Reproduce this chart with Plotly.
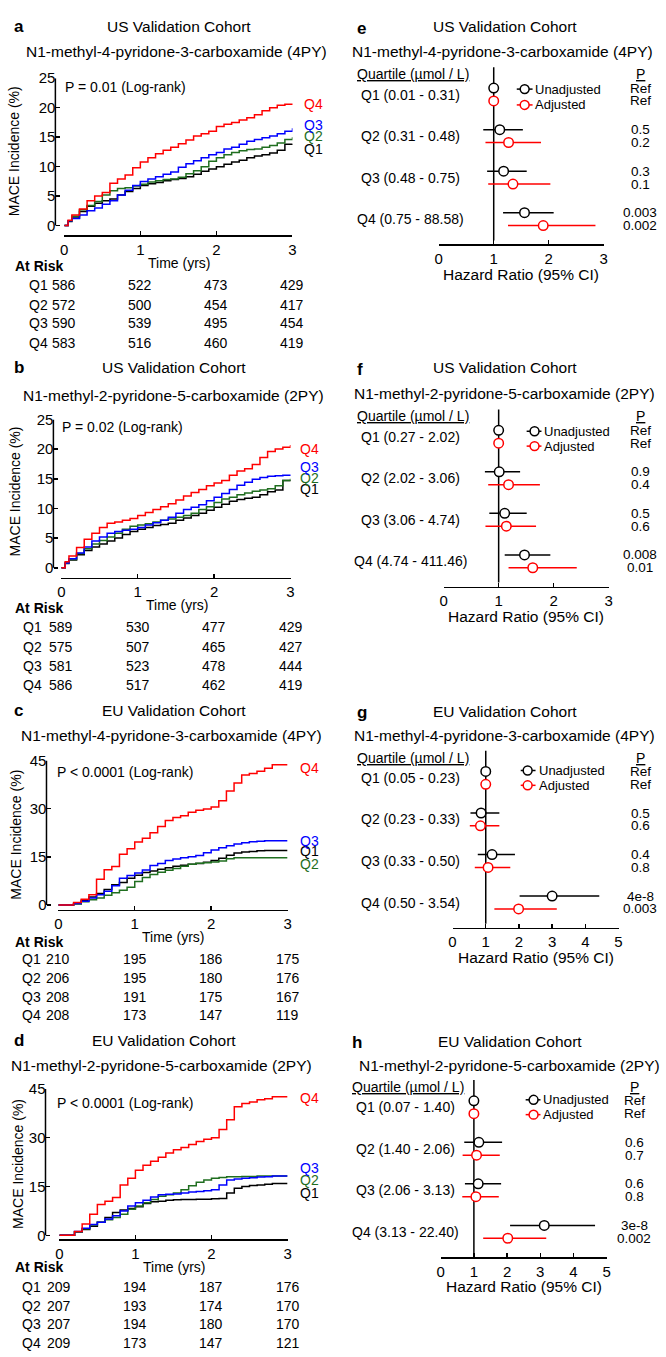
import plotly.graph_objects as go

W, H = 666, 1357
FONT = "Liberation Sans, Arial, Helvetica, sans-serif"

# ---------------- DATA ----------------
TIME_YRS = [0.0, 0.05, 0.1, 0.2, 0.3, 0.4, 0.5, 0.6, 0.7, 0.8, 0.9,
            1.0, 1.1, 1.2, 1.3, 1.4, 1.5, 1.6, 1.7, 1.8, 1.9,
            2.0, 2.1, 2.2, 2.3, 2.4, 2.5, 2.6, 2.7, 2.8, 2.9, 3.0]

# a: US cohort, 4PY (cumulative MACE incidence, %)
US_4PY_Q1 = [0, 0.7, 1.3, 2.4, 3.3, 3.8, 4.2, 4.5, 5.2, 5.8, 6.3, 6.8, 7.1, 7.3, 7.6, 7.8, 8.0, 8.3, 8.7, 9.2, 9.6, 10.0, 10.4, 10.8, 11.1, 11.5, 11.8, 12.0, 12.3, 12.8, 13.8, 13.9]
US_4PY_Q2 = [0, 0.8, 1.6, 2.7, 3.4, 4.1, 5.2, 5.9, 6.3, 6.4, 6.7, 7.0, 7.4, 7.6, 7.8, 7.9, 8.2, 8.8, 9.3, 10.0, 10.9, 11.5, 12.0, 12.4, 12.7, 12.9, 13.0, 13.3, 13.6, 14.0, 14.6, 15.0]
US_4PY_Q3 = [0, 0.8, 1.2, 1.8, 2.5, 3.0, 3.6, 4.2, 5.2, 6.0, 6.8, 7.5, 7.9, 8.3, 8.7, 9.1, 9.9, 10.5, 11.0, 11.5, 12.0, 12.4, 13.0, 13.3, 13.8, 14.3, 14.6, 14.9, 15.2, 15.6, 16.0, 16.5]
US_4PY_Q4 = [0, 0.9, 1.8, 2.8, 4.2, 5.0, 5.6, 7.2, 7.9, 8.6, 9.8, 10.8, 11.5, 12.2, 12.8, 13.3, 13.9, 14.5, 15.2, 15.6, 16.0, 16.8, 17.2, 17.5, 17.9, 18.3, 18.8, 19.5, 20.0, 20.4, 20.6, 20.7]

# b: US cohort, 2PY
US_2PY_Q1 = [0, 0.7, 1.3, 2.2, 2.9, 3.5, 4.0, 4.5, 5.0, 5.6, 6.1, 6.5, 6.8, 7.1, 7.3, 7.5, 8.0, 8.4, 8.8, 9.2, 9.7, 10.2, 10.7, 11.2, 11.5, 11.7, 11.9, 12.3, 12.8, 13.1, 14.7, 14.8]
US_2PY_Q2 = [0, 0.8, 1.4, 2.4, 3.2, 4.0, 4.6, 5.2, 5.8, 6.5, 7.0, 7.2, 7.4, 7.7, 8.0, 8.2, 8.5, 8.8, 9.2, 9.8, 10.3, 11.0, 11.6, 11.9, 12.3, 12.6, 12.9, 13.1, 13.3, 13.8, 14.7, 15.0]
US_2PY_Q3 = [0, 0.8, 1.5, 2.5, 3.5, 4.5, 5.2, 5.8, 6.1, 6.3, 6.5, 6.8, 7.2, 7.6, 8.0, 8.5, 9.2, 9.8, 10.2, 10.6, 11.3, 11.9, 12.5, 13.2, 13.9, 14.4, 14.9, 15.2, 15.4, 15.5, 15.6, 15.7]
US_2PY_Q4 = [0, 1.0, 2.0, 3.4, 4.8, 5.8, 6.8, 7.5, 7.7, 8.0, 8.3, 8.8, 9.3, 9.8, 10.3, 10.8, 11.4, 12.1, 12.7, 13.2, 13.8, 14.3, 14.7, 15.6, 16.3, 16.7, 17.4, 18.6, 19.6, 20.0, 20.3, 20.7]

# c: EU cohort, 4PY
EU_4PY_Q1 = [0, 0, 0, 0.5, 1.5, 2.5, 3.6, 4.8, 6.3, 7.0, 8.3, 9.3, 10.1, 10.6, 11.1, 11.6, 12.1, 12.4, 12.7, 12.9, 13.3, 13.9, 14.6, 15.5, 16.2, 16.5, 16.7, 16.9, 17.0, 17.0, 17.0, 17.0]
EU_4PY_Q2 = [0, 0, 0, 0.3, 1.0, 1.6, 2.2, 3.0, 3.8, 4.6, 5.5, 7.3, 8.6, 9.5, 10.2, 10.8, 11.4, 12.1, 12.7, 13.0, 13.2, 13.4, 13.7, 14.4, 14.7, 14.7, 14.7, 14.7, 14.7, 14.7, 14.7, 14.7]
EU_4PY_Q3 = [0, 0, 0, 0.5, 1.2, 2.2, 3.2, 4.3, 6.0, 8.3, 9.2, 10.0, 10.9, 12.3, 12.9, 13.9, 14.3, 14.7, 15.0, 15.4, 16.3, 17.1, 17.8, 18.5, 19.0, 19.4, 19.7, 19.9, 20.0, 20.0, 20.0, 20.0]
EU_4PY_Q4 = [0, 0, 0, 0.8, 1.8, 3.2, 8.0, 11.0, 12.0, 15.8, 17.5, 19.6, 20.8, 22.5, 24.5, 26.3, 27.3, 27.8, 28.9, 29.5, 29.9, 30.5, 32.5, 35.5, 38.0, 40.5, 41.0, 41.7, 42.6, 43.7, 43.7, 43.7]

# d: EU cohort, 2PY
EU_2PY_Q1 = [0, 0, 0, 1.0, 1.8, 2.8, 4.0, 5.5, 7.0, 7.8, 8.2, 8.8, 9.8, 10.3, 10.5, 10.8, 10.9, 11.0, 11.0, 11.1, 11.1, 11.2, 11.3, 13.0, 14.5, 15.0, 15.3, 15.5, 15.7, 15.9, 15.9, 15.9]
EU_2PY_Q2 = [0, 0, 0, 1.0, 2.0, 3.2, 4.0, 4.8, 5.5, 6.5, 8.0, 9.0, 10.0, 11.0, 12.0, 12.5, 13.0, 14.0, 15.2, 16.3, 17.0, 17.5, 17.8, 18.0, 18.0, 18.1, 18.1, 18.2, 18.2, 18.2, 18.2, 18.2]
EU_2PY_Q3 = [0, 0, 0, 1.2, 2.2, 3.3, 4.0, 5.0, 6.0, 7.5, 9.0, 10.0, 10.8, 11.8, 12.5, 12.6, 12.7, 13.0, 13.3, 13.5, 13.7, 14.0, 15.5, 17.0, 17.3, 17.5, 17.7, 17.9, 18.0, 18.2, 18.2, 18.2]
EU_2PY_Q4 = [0, 0, 0, 1.2, 3.5, 6.5, 9.5, 10.5, 11.6, 15.5, 17.5, 20.0, 21.5, 22.8, 24.0, 25.3, 26.3, 27.0, 27.9, 28.8, 29.5, 30.0, 32.5, 35.5, 39.5, 40.5, 41.0, 41.7, 42.0, 42.6, 42.6, 42.6]

# At-risk tables
RISK_TIMES = [0, 1, 2, 3]
US_4PY_RISK_Q1 = [586, 522, 473, 429]
US_4PY_RISK_Q2 = [572, 500, 454, 417]
US_4PY_RISK_Q3 = [590, 539, 495, 454]
US_4PY_RISK_Q4 = [583, 516, 460, 419]
US_2PY_RISK_Q1 = [589, 530, 477, 429]
US_2PY_RISK_Q2 = [575, 507, 465, 427]
US_2PY_RISK_Q3 = [581, 523, 478, 444]
US_2PY_RISK_Q4 = [586, 517, 462, 419]
EU_4PY_RISK_Q1 = [210, 195, 186, 175]
EU_4PY_RISK_Q2 = [206, 195, 180, 176]
EU_4PY_RISK_Q3 = [208, 191, 175, 167]
EU_4PY_RISK_Q4 = [208, 173, 147, 119]
EU_2PY_RISK_Q1 = [209, 194, 187, 176]
EU_2PY_RISK_Q2 = [207, 193, 174, 170]
EU_2PY_RISK_Q3 = [207, 194, 180, 170]
EU_2PY_RISK_Q4 = [209, 173, 147, 121]

QUARTILES = ["Q1", "Q2", "Q3", "Q4"]

# Forest plots: hazard ratios (95% CI)
E_RANGES = ["Q1 (0.01 - 0.31)", "Q2 (0.31 - 0.48)", "Q3 (0.48 - 0.75)", "Q4 (0.75 - 88.58)"]
E_HR_U = [1, 1.11, 1.18, 1.56]; E_LO_U = [1, 0.81, 0.88, 1.17]; E_HI_U = [1, 1.53, 1.60, 2.09]
E_HR_A = [1, 1.27, 1.35, 1.90]; E_LO_A = [1, 0.85, 0.90, 1.26]; E_HI_A = [1, 1.86, 2.03, 2.85]
E_P_U = ["Ref", "0.5", "0.3", "0.003"]; E_P_A = ["Ref", "0.2", "0.1", "0.002"]

F_RANGES = ["Q1 (0.27 - 2.02)", "Q2 (2.02 - 3.06)", "Q3 (3.06 - 4.74)", "Q4 (4.74 - 411.46)"]
F_HR_U = [1, 1.01, 1.11, 1.47]; F_LO_U = [1, 0.75, 0.83, 1.11]; F_HI_U = [1, 1.39, 1.51, 1.94]
F_HR_A = [1, 1.18, 1.14, 1.62]; F_LO_A = [1, 0.81, 0.76, 1.18]; F_HI_A = [1, 1.75, 1.68, 2.42]
F_P_U = ["Ref", "0.9", "0.5", "0.008"]; F_P_A = ["Ref", "0.4", "0.6", "0.01"]

G_RANGES = ["Q1 (0.05 - 0.23)", "Q2 (0.23 - 0.33)", "Q3 (0.33 - 0.50)", "Q4 (0.50 - 3.54)"]
G_HR_U = [1, 0.86, 1.19, 3.00]; G_LO_U = [1, 0.54, 0.76, 2.02]; G_HI_U = [1, 1.41, 1.88, 4.42]
G_HR_A = [1, 0.84, 1.07, 1.99]; G_LO_A = [1, 0.52, 0.67, 1.26]; G_HI_A = [1, 1.41, 1.74, 3.14]
G_P_U = ["Ref", "0.5", "0.4", "4e-8"]; G_P_A = ["Ref", "0.6", "0.8", "0.003"]

H_RANGES = ["Q1 (0.07 - 1.40)", "Q2 (1.40 - 2.06)", "Q3 (2.06 - 3.13)", "Q4 (3.13 - 22.40)"]
H_HR_U = [1, 1.15, 1.13, 3.12]; H_LO_U = [1, 0.71, 0.73, 2.09]; H_HI_U = [1, 1.85, 1.82, 4.65]
H_HR_A = [1, 1.08, 1.06, 2.02]; H_LO_A = [1, 0.66, 0.65, 1.28]; H_HI_A = [1, 1.78, 1.75, 3.18]
H_P_U = ["Ref", "0.6", "0.6", "3e-8"]; H_P_A = ["Ref", "0.7", "0.8", "0.002"]

# ---------------- STYLE / LAYOUT ----------------
Q_COLORS = ["#000000", "#1f6e1f", "#0000ff", "#ff0000"]


def px(x):
    return x / W


def py(y):
    return 1 - y / H


def axname(kind, i):
    return kind if i == 1 else f"{kind}{i}"


def axref(kind, i):
    return kind[0] if i == 1 else f"{kind[0]}{i}"


fig = go.Figure()
annotations = []
shapes = []
layout = {}


def txt(x, y, s, size=14, color="black", xanchor="center", xref="paper", yref="paper",
        bold=False, angle=0):
    annotations.append(dict(
        x=x, y=y, xref=xref, yref=yref, text=(f"<b>{s}</b>" if bold else s),
        showarrow=False, xanchor=xanchor, yanchor="middle", textangle=angle,
        font=dict(size=size, color=color, family=FONT)))


def km_panel(g, curves, risks, letter, title, subtitle, ptext):
    i = g["idx"]
    xr, yr = axref("x", i), axref("y", i)
    for name, col, vals in zip(QUARTILES, Q_COLORS, curves):
        fig.add_trace(go.Scatter(x=TIME_YRS, y=vals, mode="lines", name=name,
                                 line=dict(color=col, width=1.5, shape="hv"),
                                 xaxis=xr, yaxis=yr, hoverinfo="skip"))
    scale = (g["y0"] - g["ytop"]) / g["ymax"]
    pad = 2.0 / scale
    layout[axname("xaxis", i)] = dict(
        domain=[px(g["x0"]), px(g["x1"])], range=[0, 3], anchor="free",
        position=py(g["xline"]), showline=True, linecolor="black", linewidth=1.5,
        ticks="inside", ticklen=4, tickwidth=1.5, tickcolor="black",
        tickvals=RISK_TIMES, tickfont=dict(size=15, family=FONT, color="black"),
        showgrid=False, zeroline=False, fixedrange=True)
    layout[axname("yaxis", i)] = dict(
        domain=[py(g["y0"] + 2), py(g["ytop"])], range=[-pad, g["ymax"]], anchor="free",
        position=px(g["yline"]), showline=False, ticks="inside", ticklen=4,
        tickwidth=1.5, tickcolor="black", tickvals=g["yticks"],
        tickfont=dict(size=15, family=FONT, color="black"),
        showgrid=False, zeroline=False, fixedrange=True)
    shapes.append(dict(type="line", xref="paper", yref=yr, x0=px(g["yline"]), x1=px(g["yline"]),
                       y0=0, y1=g["ymax"], line=dict(color="black", width=1.5)))
    # texts
    txt(px(g["letter"][0]), py(g["letter"][1]), letter, size=17, bold=True, xanchor="left")
    txt(px(g["title"][0]), py(g["title"][1]), title, size=15.5)
    txt(px(g["sub"][0]), py(g["sub"][1]), subtitle, size=15.5)
    txt(px(g["p"][0]), py(g["p"][1]), ptext, size=14, xanchor="left")
    txt(px(g["ytitle"][0]), py(g["ytitle"][1]), "MACE Incidence (%)", size=14, angle=-90)
    txt(px(g["time"][0]), py(g["time"][1]), "Time (yrs)", size=14)
    txt(px(g["atrisk"][0]), py(g["atrisk"][1]), "At Risk", size=14, bold=True, xanchor="left")
    for q, col, ly in zip(QUARTILES, Q_COLORS, g["labels"]):
        txt(px(g["labx"]), py(ly), q, size=14, color=col, xanchor="left")
    for q, row_y, counts in zip(QUARTILES, g["rows"], risks):
        txt(px(g["qx"]), py(row_y), q, size=14)
        for t, n in zip(RISK_TIMES, counts):
            txt(t, py(row_y), str(n), size=14, xref=xr)


ROW_PX = 42.0
ADJ_OFF = 13.0 / ROW_PX


def forest_panel(g, letter, title, subtitle, ranges, hr_u, lo_u, hi_u, hr_a, lo_a, hi_a, p_u, p_a):
    i = g["idx"]
    xr, yr = axref("x", i), axref("y", i)
    top = g["top"]
    q1 = top + 21
    axis_y = top + 179
    rows_u = [k for k in range(len(ranges))]
    rows_a = [k + ADJ_OFF for k in rows_u]
    for hr, lo, hi, ys, col in [(hr_u, lo_u, hi_u, rows_u, "black"), (hr_a, lo_a, hi_a, rows_a, "#ff0000")]:
        fig.add_trace(go.Scatter(
            x=hr, y=ys, mode="markers", xaxis=xr, yaxis=yr, hoverinfo="skip",
            marker=dict(symbol="circle", size=9.5, color="white", line=dict(color=col, width=1.5)),
            error_x=dict(type="data", symmetric=False,
                         array=[h - m for h, m in zip(hi, hr)],
                         arrayminus=[m - l for m, l in zip(hr, lo)],
                         color=col, thickness=1.5, width=0)))
    layout[axname("xaxis", i)] = dict(
        domain=[px(g["xa0"]), px(g["xa1"])], range=[0, g["xmax"]], anchor="free",
        position=py(axis_y), showline=True, linecolor="black", linewidth=1.5,
        ticks="inside", ticklen=4, tickwidth=1.5, tickcolor="black",
        tickvals=list(range(g["xmax"] + 1)), tickfont=dict(size=15, family=FONT, color="black"),
        showgrid=False, zeroline=False, fixedrange=True)
    layout[axname("yaxis", i)] = dict(
        domain=[py(axis_y), py(top)], range=[(axis_y - q1) / ROW_PX, (top - q1) / ROW_PX],
        anchor="free", position=px(g["xa0"]), visible=False, showgrid=False,
        zeroline=False, fixedrange=True)
    shapes.append(dict(type="line", xref=xr, yref="paper", x0=1, x1=1, y0=py(axis_y - 4), y1=py(top),
                       line=dict(color="black", width=1.5), layer="below"))
    # texts
    txt(px(g["letter"][0]), py(g["letter"][1]), letter, size=17, bold=True, xanchor="left")
    txt(px(g["title"][0]), py(g["title"][1]), title, size=15.5)
    txt(px(g["sub"][0]), py(g["sub"][1]), subtitle, size=15.5)
    txt(px(g["hdr_x"]), py(top + 7), "<u>Quartile (µmol / L)</u>", size=14, xanchor="left")
    txt(px(g["pcx"]), py(top + 7), "<u>P</u>", size=14)
    for k, lab in enumerate(ranges):
        txt(px(g["qcx"]), rows_u[k] + ADJ_OFF / 2, lab, size=14, yref=yr)
        txt(px(g["pcx"]), rows_u[k], p_u[k], size=13.5, yref=yr)
        txt(px(g["pcx"]), rows_a[k], p_a[k], size=13.5, yref=yr)
    txt(px(g["hr"][0]), py(axis_y + 30), "Hazard Ratio (95% CI)", size=15.5)
    # legend glyphs
    l0, l1, cx, tx = g["leg"]
    for ly, col, lab in [(g["leg_y"][0], "black", "Unadjusted"), (g["leg_y"][1], "#ff0000", "Adjusted")]:
        shapes.append(dict(type="line", xref="paper", yref="paper", x0=px(l0), x1=px(l1),
                           y0=py(ly), y1=py(ly), line=dict(color=col, width=1.5)))
        shapes.append(dict(type="circle", xref="paper", yref="paper", x0=px(cx - 4.5), x1=px(cx + 4.5),
                           y0=py(ly + 4.5), y1=py(ly - 4.5), fillcolor="white",
                           line=dict(color=col, width=1.5)))
        txt(px(tx), py(ly), lab, size=13, xanchor="left")


KM_GEOM = [
    dict(idx=1, x0=61, x1=292, y0=219, ytop=70, ymax=25, yticks=[0, 5, 10, 15, 20, 25], yline=52, xline=229,
         letter=(8, 18), title=(177, 18), sub=(175, 43), p=(60, 79), ytitle=(11, 144),
         time=(177, 257), atrisk=(9, 260), labx=302, labels=[142, 128, 117, 96],
         rows=[279, 299, 318, 338], qx=35),
    dict(idx=2, x0=58, x1=290, y0=565, ytop=415, ymax=25, yticks=[0, 5, 10, 15, 20, 25], yline=50, xline=575,
         letter=(8, 363), title=(172, 363), sub=(172, 391), p=(57, 423), ytitle=(11, 488),
         time=(175, 603), atrisk=(9, 606), labx=298, labels=[485, 474, 463, 445],
         rows=[625, 645, 664, 684], qx=29),
    dict(idx=3, x0=55, x1=287, y0=906, ytop=760, ymax=45, yticks=[0, 15, 30, 45], yline=43, xline=911,
         letter=(8, 709), title=(172, 709), sub=(170, 735), p=(52, 772), ytitle=(12, 835),
         time=(171, 938), atrisk=(9, 943), labx=298, labels=[851, 865, 841, 767],
         rows=[961, 980, 999, 1017], qx=28),
    dict(idx=4, x0=56, x1=287, y0=1240, ytop=1092, ymax=45, yticks=[0, 15, 30, 45], yline=42, xline=1244,
         letter=(8, 1043), title=(162, 1043), sub=(159, 1068), p=(52, 1106), ytitle=(14, 1168),
         time=(172, 1272), atrisk=(9, 1272), labx=298, labels=[1197, 1184, 1172, 1101],
         rows=[1292, 1311, 1330, 1349], qx=28),
]

FP_GEOM = [
    dict(idx=5, xa0=440, xa1=607, xmax=3, top=59, letter=(355, 20), title=(507, 18), sub=(505, 43),
         hdr_x=355, qcx=411, pcx=644, leg=(519, 535, 527, 535), leg_y=(81, 97), hr=(523,)),
    dict(idx=6, xa0=445, xa1=612, xmax=3, top=405, letter=(355, 365), title=(507, 363), sub=(507, 389),
         hdr_x=355, qcx=411, pcx=644, leg=(529, 544, 537, 545), leg_y=(427, 442), hr=(528,)),
    dict(idx=7, xa0=454, xa1=622, xmax=5, top=750, letter=(355, 711), title=(507, 710), sub=(507, 735),
         hdr_x=355, qcx=411, pcx=644, leg=(523, 538, 530, 539), leg_y=(770, 785), hr=(538,)),
    dict(idx=8, xa0=442, xa1=610, xmax=5, top=1083, letter=(350, 1045), title=(512, 1044), sub=(512, 1068),
         hdr_x=350, qcx=406, pcx=638, leg=(528, 543, 536, 544), leg_y=(1103, 1118), hr=(526,)),
]

US, EU = "US Validation Cohort", "EU Validation Cohort"
S4 = "N1-methyl-4-pyridone-3-carboxamide (4PY)"
S2 = "N1-methyl-2-pyridone-5-carboxamide (2PY)"

km_panel(KM_GEOM[0], [US_4PY_Q1, US_4PY_Q2, US_4PY_Q3, US_4PY_Q4],
         [US_4PY_RISK_Q1, US_4PY_RISK_Q2, US_4PY_RISK_Q3, US_4PY_RISK_Q4],
         "a", US, S4, "P = 0.01 (Log-rank)")
km_panel(KM_GEOM[1], [US_2PY_Q1, US_2PY_Q2, US_2PY_Q3, US_2PY_Q4],
         [US_2PY_RISK_Q1, US_2PY_RISK_Q2, US_2PY_RISK_Q3, US_2PY_RISK_Q4],
         "b", US, S2, "P = 0.02 (Log-rank)")
km_panel(KM_GEOM[2], [EU_4PY_Q1, EU_4PY_Q2, EU_4PY_Q3, EU_4PY_Q4],
         [EU_4PY_RISK_Q1, EU_4PY_RISK_Q2, EU_4PY_RISK_Q3, EU_4PY_RISK_Q4],
         "c", EU, S4, "P < 0.0001 (Log-rank)")
km_panel(KM_GEOM[3], [EU_2PY_Q1, EU_2PY_Q2, EU_2PY_Q3, EU_2PY_Q4],
         [EU_2PY_RISK_Q1, EU_2PY_RISK_Q2, EU_2PY_RISK_Q3, EU_2PY_RISK_Q4],
         "d", EU, S2, "P < 0.0001 (Log-rank)")

forest_panel(FP_GEOM[0], "e", US, S4, E_RANGES, E_HR_U, E_LO_U, E_HI_U, E_HR_A, E_LO_A, E_HI_A, E_P_U, E_P_A)
forest_panel(FP_GEOM[1], "f", US, S2, F_RANGES, F_HR_U, F_LO_U, F_HI_U, F_HR_A, F_LO_A, F_HI_A, F_P_U, F_P_A)
forest_panel(FP_GEOM[2], "g", EU, S4, G_RANGES, G_HR_U, G_LO_U, G_HI_U, G_HR_A, G_LO_A, G_HI_A, G_P_U, G_P_A)
forest_panel(FP_GEOM[3], "h", EU, S2, H_RANGES, H_HR_U, H_LO_U, H_HI_U, H_HR_A, H_LO_A, H_HI_A, H_P_U, H_P_A)

fig.update_layout(
    width=W, height=H, margin=dict(l=0, r=0, t=0, b=0, pad=0),
    paper_bgcolor="white", plot_bgcolor="rgba(0,0,0,0)", showlegend=False,
    font=dict(family=FONT, size=14, color="black"),
    annotations=annotations, shapes=shapes, **layout)

# remove the default page margin so the 666x1357 figure fills the window exactly
fig.write_html("out.html", config={"displayModeBar": False, "staticPlot": True},
               post_script="document.body.style.margin='0px';document.body.style.overflow='hidden';")
